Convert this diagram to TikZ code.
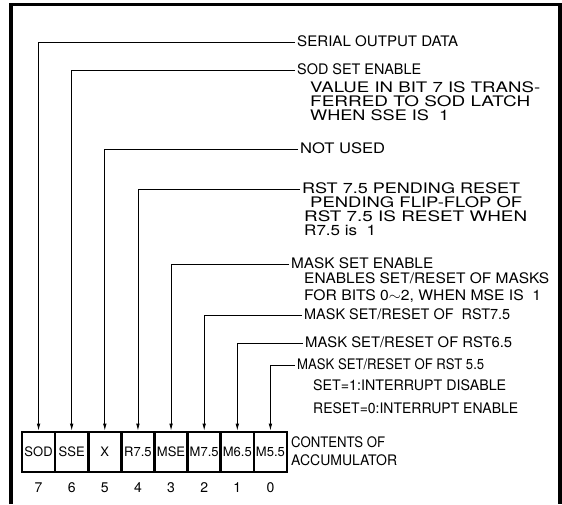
\documentclass[tikz,border=0pt]{standalone}
\usepackage{fontspec}
\usepackage{graphicx}
\setmainfont{TeX Gyre Heros}
\usetikzlibrary{arrows.meta}
\newcommand{\fitw}[2]{\resizebox{#1pt}{\height}{#2}}
\begin{document}
\begin{tikzpicture}[x=1pt,y=-1pt,
  lab/.style={anchor=west, inner sep=2pt, text height=10pt, text depth=0.5pt, font=\fontsize{14.5}{17}\selectfont},
  sub/.style={anchor=west, inner sep=0pt, text height=10pt, text depth=0.5pt, font=\fontsize{14.5}{17}\selectfont},
  cell/.style={draw, line width=2.6pt, minimum width=33.125pt, minimum height=40pt, inner sep=0pt, font=\fontsize{13}{15}\selectfont},
  bitnum/.style={font=\fontsize{14}{16}\selectfont, inner sep=0pt},
  conn/.style={line width=0.8pt, -{Latex[length=7pt,width=3.5pt]}},
  frameline/.style={line width=3.5pt}]
\useasboundingbox (0,0) rectangle (562,504);
\draw[frameline] (11,504) -- (11,4.5) -- (560,4.5) -- (560,504);

\foreach \n/\t [count=\i from 0] in {7/SOD,6/SSE,5/X,4/R7.5,3/MSE,2/M7.5,1/M6.5,0/M5.5}{
  \node[cell] (c\n) at ({38.56+\i*33.125},452) {\t};
  \node[bitnum] (b\n) at ({38.56+\i*33.125},488) {\n};
}

\node[lab] (l7) at (295,42) {\fitw{161}{SERIAL OUTPUT DATA}};
\node[lab] (l6) at (295,70) {\fitw{124}{SOD SET ENABLE}};
\node[sub] (d6a) at (310,88) {\fitw{230}{VALUE IN BIT 7 IS TRANS-}};
\node[sub] (d6b) at (310,102) {\fitw{220}{FERRED TO SOD LATCH}};
\node[sub] (d6c) at (310,116) {\fitw{139}{WHEN SSE IS\ \ 1}};
\node[lab] (l5) at (298,149) {\fitw{85}{NOT USED}};
\node[lab] (l4) at (300,189) {\fitw{218}{RST 7.5 PENDING RESET}};
\node[sub] (d4a) at (310,203) {\fitw{212}{PENDING FLIP-FLOP OF}};
\node[sub] (d4b) at (304,217) {\fitw{223}{RST 7.5 IS RESET WHEN}};
\node[sub] (d4c) at (304,231) {\fitw{72}{R7.5 is\ \ 1}};
\node[lab] (l3) at (289,264) {\fitw{142}{MASK SET ENABLE}};
\node[sub] (d3a) at (304,279) {\fitw{245}{ENABLES SET/RESET OF MASKS}};
\node[sub] (d3b) at (304,296) {\fitw{237}{FOR BITS 0$\sim$2, WHEN MSE IS\ \ 1}};
\node[lab] (l2) at (302,315) {\fitw{206}{MASK SET/RESET OF\ \ RST7.5}};
\node[lab] (l1) at (303,343) {\fitw{207}{MASK SET/RESET OF RST6.5}};
\node[lab] (l0) at (295,365) {\fitw{187}{MASK SET/RESET OF RST 5.5}};
\node[sub] (d0a) at (313,386) {\fitw{193}{SET=1:INTERRUPT DISABLE}};
\node[sub] (d0b) at (313,409) {\fitw{205}{RESET=0:INTERRUPT ENABLE}};
\node[sub] (acc1) at (291,443) {\fitw{94}{CONTENTS OF}};
\node[sub] (acc2) at (291,461) {\fitw{106}{ACCUMULATOR}};

\foreach \n in {7,6,5,4,3,2,1,0}{
  \draw[conn] (l\n.west) -| (c\n.north);
}
\end{tikzpicture}
\end{document}
